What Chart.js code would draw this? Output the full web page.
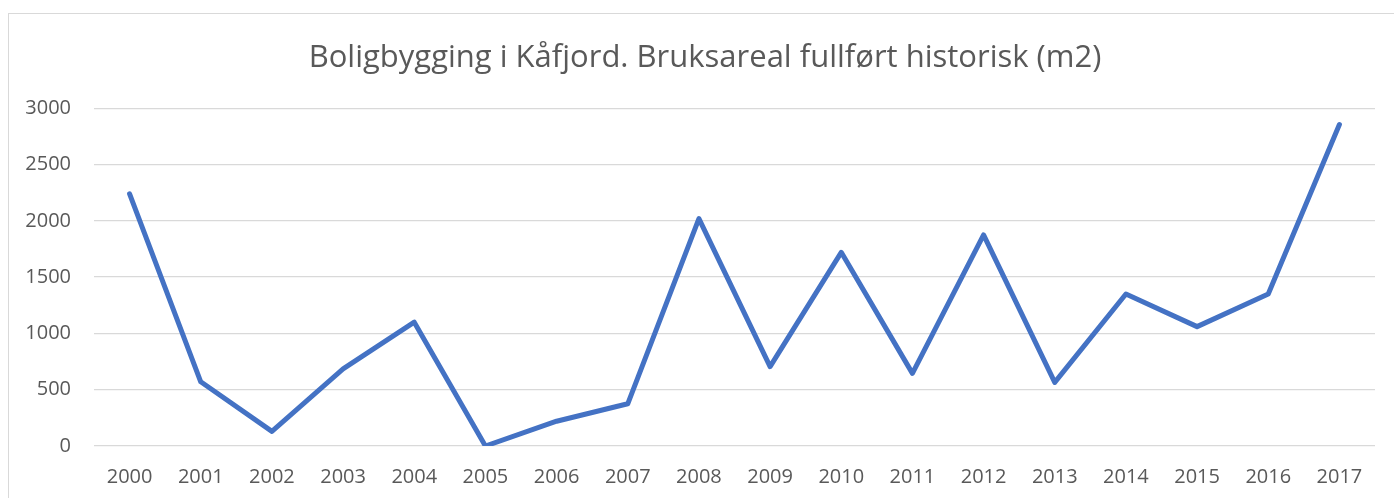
<!DOCTYPE html>
<html>
<head>
<meta charset="utf-8">
<script src="https://cdn.jsdelivr.net/npm/chart.js@4/dist/chart.umd.min.js"></script>
<style>
  html, body { margin: 0; padding: 0; background: #ffffff; }
  #wrap { position: relative; width: 1394px; height: 498px; }
  canvas { display: block; }
</style>
</head>
<body>
<div id="wrap"><canvas id="c" width="1394" height="498"></canvas></div>
<script>
const title = "Boligbygging i Kåfjord. Bruksareal fullført historisk (m2)";
const years = ["2000","2001","2002","2003","2004","2005","2006","2007","2008","2009","2010","2011","2012","2013","2014","2015","2016","2017"];
const bruksareal = [2240, 570, 130, 685, 1100, 0, 220, 375, 2020, 705, 1720, 645, 1875, 565, 1350, 1060, 1350, 2855];
const yMin = 0;
const yMax = 3000;
const yStep = 500;

const tickFont = "20px 'Open Sans', sans-serif";
const mctx = document.createElement('canvas').getContext('2d');
mctx.font = tickFont;
const widestY = mctx.measureText(String(yMax)).width;

const frame = {
  id: 'frame',
  beforeDraw(chart) {
    const ctx = chart.ctx;
    ctx.save();
    ctx.fillStyle = '#ffffff';
    ctx.fillRect(0, 0, chart.width, chart.height);
    ctx.strokeStyle = '#d9d9d9';
    ctx.lineWidth = 1;
    ctx.strokeRect(8.5, 13.5, 3000, 3000);
    ctx.restore();
  }
};

new Chart(document.getElementById('c'), {
  type: 'line',
  data: {
    labels: years,
    datasets: [{
      label: 'Bruksareal',
      data: bruksareal,
      borderColor: '#4472C4',
      backgroundColor: '#4472C4',
      borderWidth: 5,
      pointRadius: 0,
      pointHoverRadius: 0,
      tension: 0,
      borderCapStyle: 'round',
      borderJoinStyle: 'round',
      fill: false
    }]
  },
  options: {
    responsive: false,
    animation: false,
    devicePixelRatio: 1,
    layout: { padding: { left: 35, right: 19, top: 0, bottom: 0 } },
    plugins: {
      legend: { display: false },
      tooltip: { enabled: false },
      title: {
        display: true,
        text: title,
        color: '#595959',
        font: { family: "'Open Sans', sans-serif", size: 31, weight: 'normal', lineHeight: 1.2 },
        padding: { top: 40, bottom: 31 }
      }
    },
    scales: {
      x: {
        offset: true,
        grid: { display: false, drawTicks: false },
        border: { display: false },
        ticks: {
          color: '#595959',
          font: { family: "'Open Sans', sans-serif", size: 20 },
          padding: 19,
          maxRotation: 0,
          autoSkip: false
        },
        afterFit(scale) { scale.height = 52; }
      },
      y: {
        min: yMin,
        max: yMax,
        grid: { color: '#d9d9d9', lineWidth: 1.3, drawTicks: false },
        border: { display: false },
        ticks: {
          stepSize: yStep,
          color: '#595959',
          font: { family: "'Open Sans', sans-serif", size: 20 },
          mirror: true,
          crossAlign: 'far',
          padding: -23 - widestY,
          callback: (v) => String(v)
        },
        afterFit(scale) { scale.width = 59; }
      }
    }
  },
  plugins: [frame]
});
</script>
</body>
</html>
